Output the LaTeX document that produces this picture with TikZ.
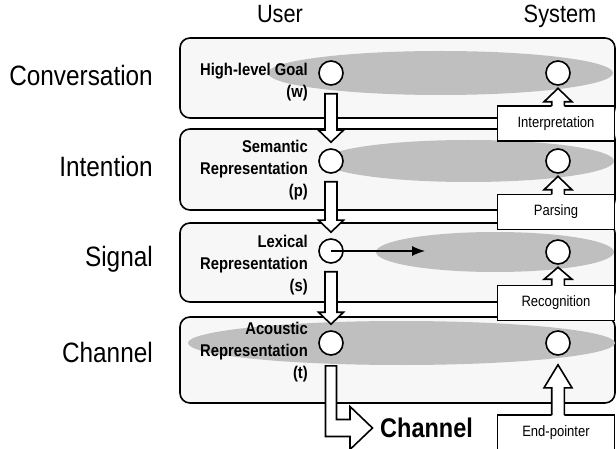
\documentclass[tikz,border=0pt]{standalone}
\usepackage{fontspec}
\setmainfont{Liberation Sans}[FakeStretch=0.87]
\usetikzlibrary{arrows.meta,calc}

\tikzset{
  layer/.style={draw, line width=1.6pt, fill=black!3, rounded corners=10pt, minimum width=435pt, inner sep=0pt},
  blob/.style={fill=black!25},
  dot/.style={circle, draw, line width=1.6pt, fill=white, minimum size=24pt, inner sep=0pt},
  stagebox/.style={draw, line width=1.6pt, fill=white, minimum width=117pt, minimum height=35pt, inner sep=0pt, font=\fontsize{15}{18}\selectfont},
  blockarrow/.style={draw, line width=1.6pt, fill=white, line join=miter},
  levellbl/.style={anchor=base east, inner sep=0pt, font=\fontsize{28}{33}\selectfont},
  sidelbl/.style={anchor=base, inner sep=0pt, font=\fontsize{25}{30}\selectfont},
  userlbl/.style={anchor=east, inner sep=0pt, align=right, font=\bfseries\fontsize{17}{22}\selectfont}
}

% hollow arrow going down from one circle to the next
\newcommand{\downblock}[2]{%
  \draw[blockarrow] let \p1=(#1.south), \p2=(#2.north) in
    (\x1-6pt,\y1-8pt) -- (\x1+6pt,\y1-8pt) -- (\x1+6pt,\y2+18pt) -- (\x1+12.5pt,\y2+18pt)
    -- (\x1,\y2+6pt) -- (\x1-12.5pt,\y2+18pt) -- (\x1-6pt,\y2+18pt) -- cycle;}

% hollow arrow going up from a stage box to a circle: box, circle, gap, head length
\newcommand{\upblock}[4]{%
  \fill[white] let \p1=(#1.north), \p2=(#2.south) in
    (\x2-6.3pt,\y1-1.8pt) -- (\x2-6.3pt,\y2-#3-#4) -- (\x2-14pt,\y2-#3-#4) -- (\x2,\y2-#3)
    -- (\x2+14pt,\y2-#3-#4) -- (\x2+6.3pt,\y2-#3-#4) -- (\x2+6.3pt,\y1-1.8pt) -- cycle;
  \draw[blockarrow, fill=none] let \p1=(#1.north), \p2=(#2.south) in
    (\x2-6.3pt,\y1-0.8pt) -- (\x2-6.3pt,\y2-#3-#4) -- (\x2-14pt,\y2-#3-#4) -- (\x2,\y2-#3)
    -- (\x2+14pt,\y2-#3-#4) -- (\x2+6.3pt,\y2-#3-#4) -- (\x2+6.3pt,\y1-0.8pt);}

\begin{document}
\begin{tikzpicture}[x=1pt,y=-1pt]
\useasboundingbox (0,0) rectangle (616,449);
\clip (0,0) rectangle (616,449);

% layers
\node[layer, minimum height=80pt] (conv) at (397.5,78) {};
\node[layer, minimum height=81pt] (inten) at (397.5,169.5) {};
\node[layer, minimum height=79pt] (sig) at (397.5,262.5) {};
\node[layer, minimum height=86pt] (chan) at (397.5,360) {};

% shared regions
\fill[blob] (440.5,73) ellipse [x radius=172.5pt, y radius=22pt];
\fill[blob] (468.5,161) ellipse [x radius=145.5pt, y radius=21pt];
\fill[blob] (495,252) ellipse [x radius=119pt, y radius=20pt];
\fill[blob] (401.5,343) ellipse [x radius=213.5pt, y radius=22pt];

\node[userlbl] (goal) at (308,82) {High-level Goal\\(w)};
\node[userlbl] (sem) at (308,170.5) {Semantic\\Representation\\(p)};
\node[userlbl] (lex) at (308,265) {Lexical\\Representation\\(s)};
\node[userlbl] (aco) at (308,352) {Acoustic\\Representation\\(t)};

% user and system states
\node[dot] (u1) at (331,73) {};
\node[dot] (s1) at (558,73) {};
\node[dot] (u2) at (331,161) {};
\node[dot] (s2) at (558,161) {};
\node[dot] (u3) at (331,251) {};
\node[dot] (s3) at (558,252) {};
\node[dot] (u4) at (331,343) {};
\node[dot] (s4) at (558,343) {};

\coordinate (lexend) at (425,251);
\draw[line width=1.1pt, -{Latex[length=13pt,width=10pt]}] (u3.center) -- (lexend);

\downblock{u1}{u2}
\downblock{u2}{u3}
\downblock{u3}{u4}

% system side
\node[stagebox] (interp) at (556,123.5) {Interpretation};
\node[stagebox] (parse) at (556,212) {Parsing};
\node[stagebox] (recog) at (556,303) {Recognition};
\node[stagebox] (endpt) at (556,432.5) {End-pointer};

\upblock{interp}{s1}{2.5pt}{13.5pt}
\upblock{parse}{s2}{2.5pt}{13.5pt}
\upblock{recog}{s3}{2.5pt}{12pt}
\upblock{endpt}{s4}{9pt}{23pt}

% out to the channel
\node[anchor=west, inner sep=0pt, font=\bfseries\fontsize{27}{32}\selectfont] (chanout) at (380,428) {Channel};
\draw[blockarrow] let \p1=(u4.south), \p2=(chanout.west) in
  (\x1-5.5pt,\y1-10pt) -- (\x1+5.5pt,\y1-10pt) -- (\x1+5.5pt,\y2+8.5pt) -- (\x2-30pt,\y2+8.5pt)
  -- (\x2-30pt,\y2+21.5pt) -- (\x2-7.5pt,\y2) -- (\x2-30pt,\y2-21.5pt) -- (\x2-30pt,\y2-8.5pt)
  -- (\x1-5.5pt,\y2-8.5pt) -- cycle;

% level and side names
\node[levellbl] (convlbl) at (153,86) {Conversation};
\node[levellbl] (intenlbl) at (153,176.5) {Intention};
\node[levellbl] (siglbl) at (153,266) {Signal};
\node[levellbl] (chanlbl) at (153,362) {Channel};
\node[sidelbl] (userlbl) at (280,23) {User};
\node[sidelbl] (syslbl) at (560,23) {System};
\end{tikzpicture}
\end{document}
